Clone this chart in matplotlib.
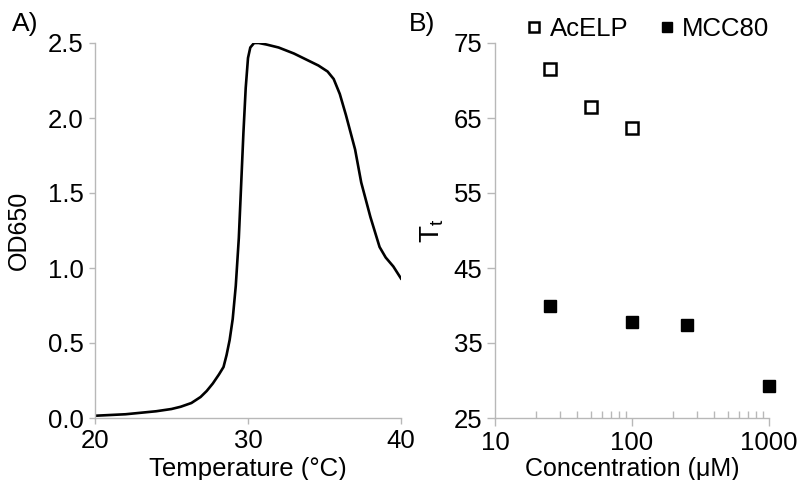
import matplotlib
matplotlib.use("Agg")
import matplotlib.pyplot as plt
from matplotlib.ticker import FixedLocator, FixedFormatter, NullFormatter, LogLocator

plt.rcParams['font.family'] = ['Liberation Sans', 'DejaVu Sans']

# panel A: turbidity curve
temp = [20, 21, 22, 23, 24, 25, 25.6, 26.3, 26.9, 27.3, 27.7, 28.1, 28.4, 28.6, 28.8,
        29.0, 29.2, 29.4, 29.55, 29.7, 29.85, 30.0, 30.15, 30.4, 30.7, 31.2, 32.0,
        33.0, 34.0, 34.6, 35.2, 35.6, 36.0, 36.4, 37.0, 37.4, 38.0, 38.6, 39.0,
        39.5, 40.0]
od650 = [0.015, 0.02, 0.025, 0.035, 0.045, 0.06, 0.075, 0.10, 0.14, 0.18, 0.23, 0.29,
         0.34, 0.42, 0.52, 0.66, 0.88, 1.2, 1.55, 1.9, 2.2, 2.40, 2.47, 2.50, 2.50,
         2.49, 2.47, 2.43, 2.38, 2.35, 2.31, 2.26, 2.16, 2.02, 1.79, 1.57, 1.34,
         1.14, 1.07, 1.01, 0.93]

# panel B: transition temperature vs concentration
acelp_conc = [25, 50, 100]
acelp_tt = [71.6, 66.5, 63.7]
mcc80_conc = [25, 100, 250, 1000]
mcc80_tt = [40.0, 37.8, 37.4, 29.3]

grey = '#b8b8b8'

fig = plt.figure(figsize=(8.01, 4.8), dpi=100)
axA = fig.add_axes([95 / 801, 62 / 480, 306 / 801, 375 / 480])
axB = fig.add_axes([495 / 801, 62 / 480, 274 / 801, 375 / 480])

for ax in (axA, axB):
    for s in ('top', 'right'):
        ax.spines[s].set_visible(False)
    for s in ('left', 'bottom'):
        ax.spines[s].set_color(grey)
        ax.spines[s].set_linewidth(1.0)
    ax.tick_params(which='both', color=grey, width=1.0)

axA.plot(temp, od650, color='black', lw=1.9)
axA.set_xlim(20, 40)
axA.set_ylim(0, 2.5)
axA.set_xticks([20, 30, 40])
axA.set_yticks([0, 0.5, 1.0, 1.5, 2.0, 2.5])
axA.set_yticklabels(['0.0', '0.5', '1.0', '1.5', '2.0', '2.5'])
axA.tick_params(labelsize=18.5, length=4, pad=4)
axA.set_xlabel('Temperature (°C)', fontsize=18.5)
axA.set_ylabel('OD650', fontsize=18)
axA.xaxis.set_label_coords(0.5, -0.105)
axA.yaxis.set_label_coords(-0.208, 0.5)

axB.plot(acelp_conc, acelp_tt, 's', ms=9, mfc='white', mec='black', mew=1.8,
         ls='none', label='AcELP', clip_on=False)
axB.plot(mcc80_conc, mcc80_tt, 's', ms=9, mfc='black', mec='black',
         ls='none', label='MCC80', clip_on=False)
axB.set_xscale('log')
axB.set_xlim(10, 1000)
axB.set_ylim(25, 75)
axB.set_yticks([25, 35, 45, 55, 65, 75])
axB.xaxis.set_major_locator(FixedLocator([10, 100, 1000]))
axB.xaxis.set_major_formatter(FixedFormatter(['10', '100', '1000']))
axB.xaxis.set_minor_locator(LogLocator(base=10, subs=range(2, 10)))
axB.xaxis.set_minor_formatter(NullFormatter())
axB.tick_params(which='major', labelsize=18.5, length=6, pad=3)
axB.tick_params(axis='x', which='minor', direction='in', length=5)
axB.set_xlabel('Concentration (μM)', fontsize=18)
axB.set_ylabel(r'T$_\mathregular{t}$', fontsize=20)
axB.xaxis.set_label_coords(0.5, -0.105)
axB.yaxis.set_label_coords(-0.18, 0.5)

fig.legend(loc='center', bbox_to_anchor=(648 / 801, 1 - 29 / 480), ncol=2,
           frameon=False, fontsize=18.5, handlelength=0.6, handletextpad=0.3,
           columnspacing=1.2, markerscale=0.8)

fig.text(12 / 801, 1 - 24 / 480, 'A)', fontsize=19, va='center', ha='left')
fig.text(409 / 801, 1 - 24 / 480, 'B)', fontsize=19, va='center', ha='left')

fig.savefig('out.png', dpi=100)
